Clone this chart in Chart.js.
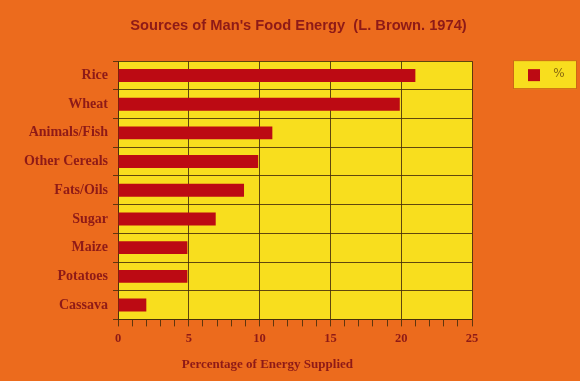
<!DOCTYPE html>
<html>
<head>
<meta charset="utf-8">
<script src="https://cdn.jsdelivr.net/npm/chart.js@4/dist/chart.umd.min.js"></script>
<style>
  html, body { margin: 0; padding: 0; background: #EC6B1D; }
  #wrap { width: 580px; height: 381px; }
</style>
</head>
<body>
<div id="wrap"><canvas id="c" width="580" height="381"></canvas></div>
<script>
const categories = ["Rice", "Wheat", "Animals/Fish", "Other Cereals", "Fats/Oils", "Sugar", "Maize", "Potatoes", "Cassava"];
const percentValues = [21, 19.9, 10.9, 9.9, 8.9, 6.9, 4.9, 4.9, 2];
const seriesLabel = "%";
const chartTitle = "Sources of Man's Food Energy  (L. Brown. 1974)";
const xAxisTitle = "Percentage of Energy Supplied";
const xMin = 0, xMax = 25, xMajorStep = 5;

const ORANGE = "#EC6B1D";
const YELLOW = "#F8DE1E";
const BAR_RED = "#BC0A13";
const TEXT_RED = "#8E1A17";
const GRID = "rgba(70,45,10,0.85)";

const backgroundPlugin = {
  id: "bg",
  beforeDraw(chart) {
    const { ctx, chartArea } = chart;
    ctx.save();
    ctx.fillStyle = ORANGE;
    ctx.fillRect(0, 0, chart.width, chart.height);
    ctx.fillStyle = YELLOW;
    ctx.fillRect(chartArea.left, chartArea.top, chartArea.right - chartArea.left, chartArea.bottom - chartArea.top);
    ctx.restore();
  }
};

const legendBoxPlugin = {
  id: "legendBox",
  afterDraw(chart) {
    const { ctx, chartArea } = chart;
    const left = chartArea.right + 41, top = chartArea.top - 1;
    const w = 64, h = 29;
    ctx.save();
    ctx.fillStyle = YELLOW;
    ctx.fillRect(left, top, w, h);
    ctx.strokeStyle = "rgba(200,90,20,0.9)";
    ctx.lineWidth = 1;
    ctx.strokeRect(left + 0.5, top + 0.5, w - 1, h - 1);
    ctx.fillStyle = BAR_RED;
    ctx.fillRect(left + 15, top + 9, 12, 12);
    ctx.fillStyle = "#8a6a10";
    ctx.font = "12px 'DejaVu Sans'";
    ctx.textAlign = "center";
    ctx.textBaseline = "middle";
    ctx.fillText(chart.data.datasets[0].label, left + 46, top + 14);
    ctx.restore();
  }
};

new Chart(document.getElementById("c"), {
  type: "bar",
  data: {
    labels: categories,
    datasets: [{
      label: seriesLabel,
      data: percentValues,
      backgroundColor: BAR_RED,
      borderWidth: 0,
      barPercentage: 0.9,
      categoryPercentage: 0.5
    }]
  },
  options: {
    indexAxis: "y",
    responsive: false,
    animation: false,
    devicePixelRatio: 1,
    layout: { padding: { left: 17, right: 0, top: 0, bottom: 0 } },
    plugins: {
      legend: { display: false },
      tooltip: { enabled: false },
      title: {
        display: true,
        text: chartTitle,
        color: TEXT_RED,
        font: { family: "'Liberation Sans', Arial, sans-serif", size: 14.7, weight: "bold" },
        padding: { top: 17, bottom: 26.5 }
      }
    },
    scales: {
      x: {
        type: "linear",
        min: xMin,
        max: xMax,
        position: "bottom",
        border: { display: true, color: GRID, width: 1 },
        grid: {
          color: (c) => (c.tick && c.tick.value % xMajorStep === 0 ? GRID : "rgba(0,0,0,0)"),
          tickColor: GRID,
          lineWidth: 1,
          drawTicks: true,
          tickLength: 7
        },
        ticks: {
          stepSize: 1,
          autoSkip: false,
          maxRotation: 0,
          padding: 5,
          color: TEXT_RED,
          font: { family: "'Liberation Serif', 'Times New Roman', serif", size: 12.5, weight: "bold" },
          callback: (v) => (v % xMajorStep === 0 ? String(v) : "")
        },
        title: {
          display: true,
          text: xAxisTitle + "                 ",
          color: TEXT_RED,
          font: { family: "'Liberation Serif', 'Times New Roman', serif", size: 13, weight: "bold" },
          padding: { top: 5, bottom: 9 }
        }
      },
      y: {
        type: "category",
        position: "left",
        border: { display: true, color: GRID, width: 1 },
        grid: {
          offset: true,
          color: GRID,
          tickColor: GRID,
          lineWidth: 1,
          drawTicks: true,
          tickLength: 5
        },
        ticks: {
          padding: 5,
          color: TEXT_RED,
          font: { family: "'Liberation Serif', 'Times New Roman', serif", size: 14, weight: "bold" }
        },
        afterFit: (s) => { s.width = 101; }
      },
      spacer: {
        type: "linear",
        position: "right",
        display: true,
        grid: { display: false, drawTicks: false },
        border: { display: false },
        ticks: { display: false },
        afterFit: (s) => { s.width = 108; }
      }
    }
  },
  plugins: [backgroundPlugin, legendBoxPlugin]
});
</script>
</body>
</html>
